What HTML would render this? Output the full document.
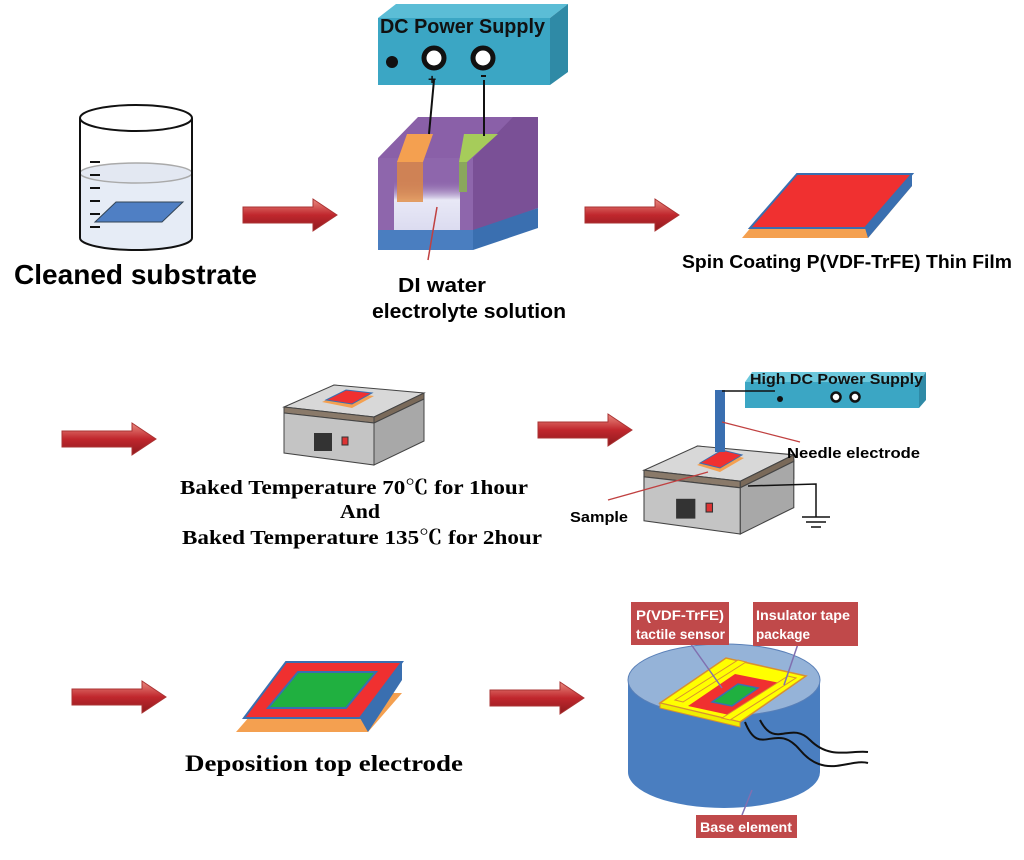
<!DOCTYPE html>
<html><head><meta charset="utf-8"><style>
body{margin:0;background:#fff}
svg text{font-family:"Liberation Sans",sans-serif;font-weight:bold}
.sf{font-family:"Liberation Serif","Noto Serif CJK SC",serif !important}
</style></head><body>
<svg width="1024" height="855" viewBox="0 0 1024 855" xmlns="http://www.w3.org/2000/svg">
<defs>
<linearGradient id="ar" x1="0" y1="0" x2="0" y2="1"><stop offset="0" stop-color="#e98a80"/><stop offset="0.5" stop-color="#c0272d"/><stop offset="1" stop-color="#8e1a1e"/></linearGradient>
<linearGradient id="wt" x1="0" y1="0" x2="0" y2="1"><stop offset="0" stop-color="#8a62a8" stop-opacity="0"/><stop offset="0.4" stop-color="#e8e8f6"/><stop offset="1" stop-color="#dcdcf0"/></linearGradient>
<g id="arrow"><polygon points="0,8 70,8 70,0 94,16 70,32 70,24 0,24" fill="url(#ar)" stroke="#a33" stroke-width="1"/></g>
<g id="plate">
<polygon points="0,28 50,0 140,12 140,30 90,58 0,46" fill="#c9c9c9" stroke="#555"/>
<polygon points="0,22 50,0 140,8 90,32" fill="#d8d8d8" stroke="#444"/>
<polygon points="0,22 90,32 90,38 0,28" fill="#8a7a6a" stroke="#444"/>
<polygon points="90,32 140,8 140,14 90,38" fill="#7a6a5a" stroke="#444"/>
<polygon points="0,28 90,38 90,80 0,68" fill="#c4c4c4" stroke="#444"/>
<polygon points="90,38 140,14 140,56 90,80" fill="#a8a8a8" stroke="#444"/>
<rect x="30" y="48" width="18" height="18" fill="#333"/>
<rect x="58" y="52" width="6" height="8" fill="#d33" stroke="#333"/>
</g>
</defs>

<!-- beaker -->
<path d="M80,172 L80,238 A56,12 0 0 0 192,238 L192,172 A56,11 0 0 1 80,172Z" fill="#e6ecf6"/>
<ellipse cx="136" cy="173" rx="56" ry="10" fill="#e3e8f2" stroke="#aaa" stroke-width="1.5"/>
<path d="M80,118 L80,238 A56,12 0 0 0 192,238 L192,118" fill="none" stroke="#111" stroke-width="2"/>
<ellipse cx="136" cy="118" rx="56" ry="13" fill="none" stroke="#111" stroke-width="2"/>
<g stroke="#111" stroke-width="2"><line x1="90" y1="162" x2="100" y2="162"/><line x1="90" y1="175" x2="100" y2="175"/><line x1="90" y1="188" x2="100" y2="188"/><line x1="90" y1="201" x2="100" y2="201"/><line x1="90" y1="214" x2="100" y2="214"/><line x1="90" y1="227" x2="100" y2="227"/></g>
<polygon points="95,222 116,202 183,202 162,222" fill="#4f7fc4" stroke="#345" />
<text x="14" y="284" font-size="28" textLength="243" lengthAdjust="spacingAndGlyphs">Cleaned substrate</text>

<use href="#arrow" x="243" y="199"/>
<use href="#arrow" x="585" y="199"/>

<!-- DC power supply -->
<polygon points="378,18 396,4 568,4 550,18" fill="#5bbdd6"/>
<polygon points="550,18 568,4 568,72 550,85" fill="#2f8aa6"/>
<rect x="378" y="18" width="172" height="67" fill="#3ba6c4"/>
<text x="380" y="33" font-size="20" fill="#111" textLength="165" lengthAdjust="spacingAndGlyphs">DC Power Supply</text>
<circle cx="392" cy="62" r="6" fill="#111"/>
<circle cx="434" cy="58" r="10" fill="#fff" stroke="#111" stroke-width="5"/>
<circle cx="483" cy="58" r="10" fill="#fff" stroke="#111" stroke-width="5"/>
<text x="428" y="84" font-size="14" fill="#111">+</text>
<line x1="481" y1="76" x2="486" y2="76" stroke="#111" stroke-width="2"/>
<!-- cell -->
<polygon points="378,158 418,117 538,117 498,158" fill="#8a60a8"/>
<polygon points="473,158 513,117 538,117 538,208 473,232" fill="#7a5096"/>
<polygon points="473,230 538,208 538,228 473,250" fill="#3a6fb0"/>
<rect x="378" y="158" width="95" height="72" fill="#8e66ac"/>
<rect x="378" y="230" width="95" height="20" fill="#4a7ec0"/>
<rect x="394" y="180" width="66" height="50" fill="url(#wt)"/>
<polygon points="397,162 407,134 433,134 423,162" fill="#f4a050"/>
<rect x="397" y="162" width="26" height="40" fill="#e08a40" opacity="0.8"/>
<polygon points="459,162 464,134 498,134 467,162" fill="#a6cc5a"/>
<rect x="459" y="162" width="8" height="30" fill="#8ab84a" opacity="0.8"/>
<line x1="434" y1="80" x2="429" y2="134" stroke="#111" stroke-width="2"/>
<line x1="484" y1="80" x2="484" y2="136" stroke="#111" stroke-width="2"/>
<line x1="437" y1="207" x2="428" y2="260" stroke="#c04040" stroke-width="1.5"/>
<text x="398" y="292" font-size="20" textLength="88" lengthAdjust="spacingAndGlyphs">DI water</text>
<text x="372" y="318" font-size="20" textLength="194" lengthAdjust="spacingAndGlyphs">electrolyte solution</text>

<!-- spin coat film -->
<polygon points="742,238 786,186 912,186 868,238" fill="#f4a050"/>
<polygon points="750,228 797,174 912,174 865,228" fill="#f03030" stroke="#3a6fb0" stroke-width="2"/>
<polygon points="865,228 912,174 912,186 868,238" fill="#3a6fb0"/>
<text x="682" y="268" font-size="18.5" textLength="330" lengthAdjust="spacingAndGlyphs">Spin Coating P(VDF-TrFE) Thin Film</text>

<!-- row 2 -->
<use href="#arrow" x="62" y="423"/>
<use href="#plate" transform="translate(284,385)"/>
<polygon points="322,402 344,392 374,396 352,408" fill="#f4a050"/>
<polygon points="326,400 346,390 372,393 352,404" fill="#f03030" stroke="#3a6fb0"/>
<text class="sf" x="180" y="494" font-size="20" textLength="348" lengthAdjust="spacingAndGlyphs">Baked Temperature 70℃ for 1hour</text>
<text class="sf" x="340" y="518" font-size="20" textLength="40" lengthAdjust="spacingAndGlyphs">And</text>
<text class="sf" x="182" y="544" font-size="20" textLength="360" lengthAdjust="spacingAndGlyphs">Baked Temperature 135℃ for 2hour</text>

<use href="#arrow" x="538" y="414"/>
<!-- high dc -->
<polygon points="745,382 752,372 926,372 919,382" fill="#6cc8dc"/>
<polygon points="919,382 926,372 926,400 919,408" fill="#2f8aa6"/>
<rect x="745" y="382" width="174" height="26" fill="#3ba6c4"/>
<text x="750" y="384" font-size="15" fill="#111" textLength="173" lengthAdjust="spacingAndGlyphs">High DC Power Supply</text>
<circle cx="780" cy="399" r="3" fill="#111"/>
<circle cx="836" cy="397" r="4.5" fill="#fff" stroke="#111" stroke-width="2.5"/>
<circle cx="855" cy="397" r="4.5" fill="#fff" stroke="#111" stroke-width="2.5"/>
<use href="#plate" transform="translate(644,446) scale(1.07,1.1)"/>
<polygon points="697,465 722,452 744,458 720,472" fill="#f4a050"/>
<polygon points="700,463 722,450 742,455 720,468" fill="#f03030" stroke="#3a6fb0"/>
<rect x="715" y="390" width="10" height="62" fill="#3a6fb0"/>
<line x1="722" y1="391" x2="775" y2="391" stroke="#111" stroke-width="1.5"/>
<polyline points="748,486 816,484 816,517" fill="none" stroke="#111" stroke-width="1.5"/>
<g stroke="#111" stroke-width="1.5"><line x1="802" y1="517" x2="830" y2="517"/><line x1="806" y1="522" x2="826" y2="522"/><line x1="811" y1="527" x2="821" y2="527"/></g>
<line x1="722" y1="422" x2="800" y2="442" stroke="#c04040" stroke-width="1.3"/>
<line x1="708" y1="472" x2="608" y2="500" stroke="#c04040" stroke-width="1.3"/>
<text x="787" y="458" font-size="15" textLength="133" lengthAdjust="spacingAndGlyphs">Needle electrode</text>
<text x="570" y="522" font-size="15" textLength="58" lengthAdjust="spacingAndGlyphs">Sample</text>

<!-- row 3 -->
<use href="#arrow" x="72" y="681"/>
<polygon points="236,732 270,693 402,693 368,732" fill="#f4a050"/>
<polygon points="244,718 286,662 402,662 360,718" fill="#f03030" stroke="#3a6fb0" stroke-width="2"/>
<polygon points="360,718 402,662 402,680 368,732" fill="#3a6fb0"/>
<polygon points="268,708 298,672 376,672 346,708" fill="#20b040" stroke="#3a6fb0" stroke-width="2"/>
<text class="sf" x="185" y="771" font-size="23" textLength="278" lengthAdjust="spacingAndGlyphs">Deposition top electrode</text>

<use href="#arrow" x="490" y="682"/>
<!-- cylinder -->
<path d="M628,680 L628,772 A96,36 0 0 0 820,772 L820,680Z" fill="#4a7ec0"/>
<ellipse cx="724" cy="680" rx="96" ry="36" fill="#95b3d8" stroke="#5a80b8"/>
<polygon points="660,703 726,658 806,676 740,722" fill="#ff0" stroke="#d89030" stroke-width="1.5"/>
<polygon points="660,703 740,722 740,727 660,708" fill="#ee0" stroke="#d89030"/>
<polygon points="688,706 735,674 780,683 734,716" fill="#f03030"/>
<polygon points="712,702 738,684 758,688 732,706" fill="#20b040" stroke="#3a6fb0" stroke-width="1.5"/>
<polygon points="675,700 738,660 746,662 683,702" fill="#ff0" stroke="#d89030"/>
<polygon points="722,718 788,676 796,678 730,720" fill="#ff0" stroke="#d89030"/>
<path d="M745,722 C760,760 775,720 800,750 S850,758 868,763" fill="none" stroke="#111" stroke-width="2"/>
<path d="M760,720 C775,750 790,720 810,740 S850,750 868,752" fill="none" stroke="#111" stroke-width="2"/>
<line x1="688" y1="640" x2="722" y2="688" stroke="#8070b0" stroke-width="1.5"/>
<line x1="800" y1="638" x2="784" y2="685" stroke="#8070b0" stroke-width="1.5"/>
<line x1="742" y1="815" x2="752" y2="790" stroke="#8070b0" stroke-width="1.5"/>
<rect x="631" y="602" width="98" height="43" fill="#c0494a"/>
<text x="636" y="620" font-size="13.5" fill="#fff" textLength="88" lengthAdjust="spacingAndGlyphs">P(VDF-TrFE)</text>
<text x="636" y="639" font-size="13.5" fill="#fff" textLength="89" lengthAdjust="spacingAndGlyphs">tactile sensor</text>
<rect x="753" y="602" width="105" height="44" fill="#c0494a"/>
<text x="756" y="620" font-size="13.5" fill="#fff" textLength="94" lengthAdjust="spacingAndGlyphs">Insulator tape</text>
<text x="756" y="639" font-size="13.5" fill="#fff">package</text>
<rect x="696" y="815" width="101" height="23" fill="#c0494a"/>
<text x="700" y="832" font-size="13.5" fill="#fff" textLength="92" lengthAdjust="spacingAndGlyphs">Base element</text>
</svg>
</body></html>
